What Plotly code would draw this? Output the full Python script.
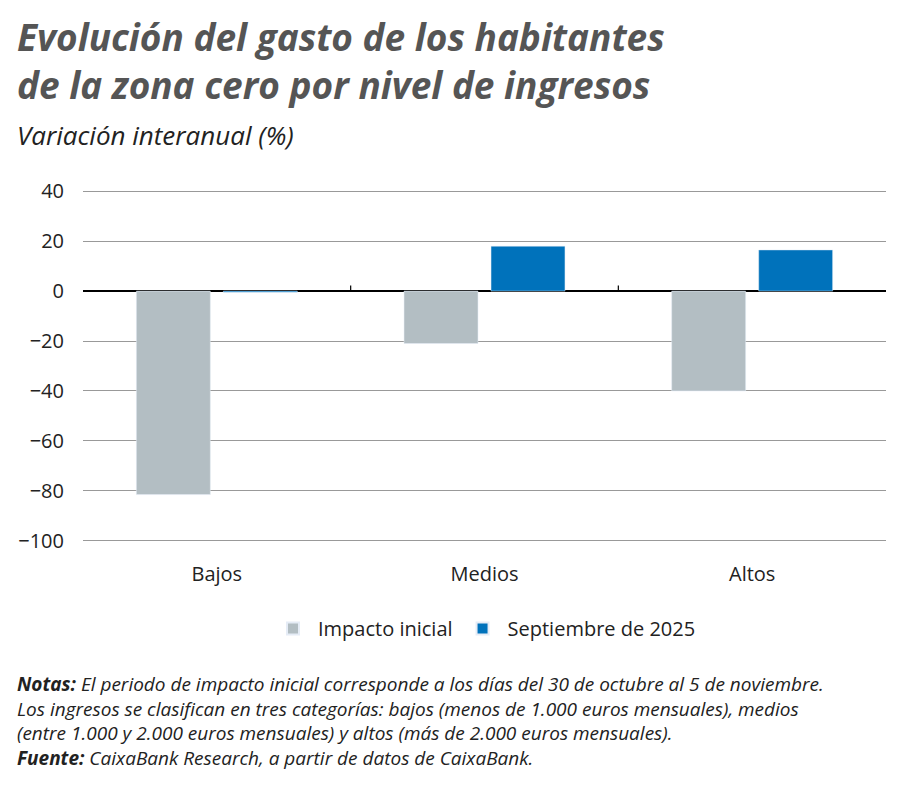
import plotly.graph_objects as go

categorias = ["Bajos", "Medios", "Altos"]
impacto = [-81.5, -21.0, -40.0]
septiembre = [-0.5, 18.0, 16.5]
ticks_y = [40, 20, 0, -20, -40, -60, -80, -100]

fnt = "Open Sans"
fig = go.Figure()
fig.add_trace(go.Bar(x=categorias, y=impacto, name="Impacto inicial", marker_color="#b3bec3"))
fig.add_trace(go.Bar(x=categorias, y=septiembre, name="Septiembre de 2025", marker_color="#0072bb"))

# small ticks on the zero line between categories
for xb in [0.5, 1.5]:
    fig.add_shape(type="line", x0=xb, x1=xb, y0=-0.2, y1=2.2, xref="x", yref="y",
                  line=dict(color="black", width=1.2))

fig.update_layout(
    width=900, height=806, plot_bgcolor="white", paper_bgcolor="white",
    margin=dict(l=75, r=22, t=182, b=272, autoexpand=False),
    barmode="group", bargap=0.35, bargroupgap=0.15,
    font=dict(family=fnt, size=20, color="#222"),
    showlegend=True,
    legend=dict(orientation="h", x=0.5, xanchor="center", y=-0.19, yanchor="top",
                font=dict(size=20), itemwidth=40, traceorder="normal", itemsizing="constant"),
)
fig.update_yaxes(range=[-100.5, 40.5], tickvals=ticks_y,
                 gridcolor="#999", gridwidth=1, zeroline=True, zerolinecolor="black",
                 zerolinewidth=1.5, showline=False, ticks="", ticklabelstandoff=18)
fig.update_xaxes(showline=False, ticks="", ticklabelstandoff=18)

fig.add_annotation(text="<b><i>Evolución del gasto de los habitantes<br>de la zona cero por nivel de ingresos</i></b>",
                   xref="paper", yref="paper", x=-0.085, y=1.0, yanchor="bottom", xanchor="left",
                   yshift=78, showarrow=False, align="left",
                   font=dict(size=37, color="#555", family=fnt))
fig.add_annotation(text="<i>Variación interanual (%)</i>", xref="paper", yref="paper",
                   x=-0.085, y=1.0, xanchor="left", yanchor="bottom", yshift=35, showarrow=False,
                   font=dict(size=26, color="#222"))
notas = ("<b><i>Notas:</i></b><i> El periodo de impacto inicial corresponde a los días del 30 de octubre al 5 de noviembre.<br>"
         "Los ingresos se clasifican en tres categorías: bajos (menos de 1.000 euros mensuales), medios<br>"
         "(entre 1.000 y 2.000 euros mensuales) y altos (más de 2.000 euros mensuales).<br>"
         "</i><b><i>Fuente:</i></b><i> CaixaBank Research, a partir de datos de CaixaBank.</i>")
fig.add_annotation(text=notas, xref="paper", yref="paper", x=-0.085, y=-0.36, xanchor="left",
                   yanchor="top", showarrow=False, align="left",
                   font=dict(size=19, color="#222"))

fig.write_html("out.html")
